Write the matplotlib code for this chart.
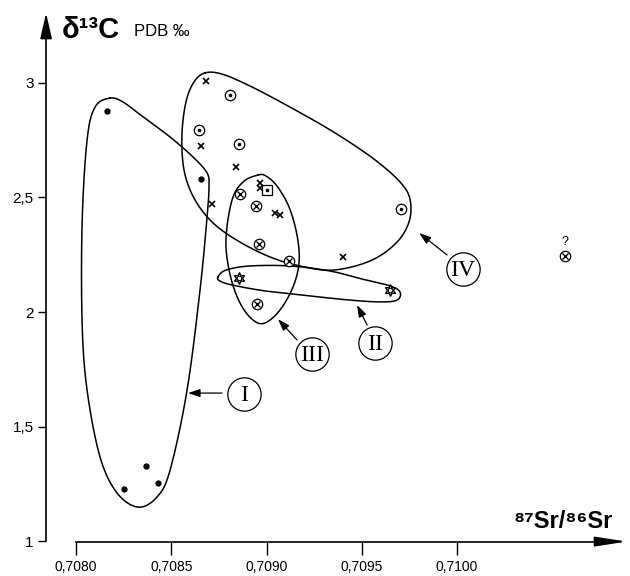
import numpy as np
import matplotlib
matplotlib.use("Agg")
import matplotlib.pyplot as plt

plt.rcParams['font.family'] = ['Liberation Sans', 'DejaVu Sans']

# ---------------- data ----------------
# Field I: filled dots
grp1_x = [0.708163, 0.708656, 0.708367, 0.708252, 0.708430]
grp1_y = [2.878, 2.581, 1.328, 1.227, 1.253]
# Field IV: dotted circles
grp4_x = [0.708808, 0.708646, 0.708856, 0.709706]
grp4_y = [2.948, 2.795, 2.734, 2.450]
# crosses
cross_x = [0.708682, 0.708656, 0.708840, 0.708714, 0.708966, 0.708966, 0.709045, 0.709071, 0.709402]
cross_y = [3.009, 2.725, 2.633, 2.472, 2.563, 2.541, 2.432, 2.424, 2.240]
# dotted square
sq_x = [0.709003]
sq_y = [2.533]
# Field III: circled crosses
grp3_x = [0.708861, 0.708945, 0.708961, 0.709118, 0.708950, 0.710567]
grp3_y = [2.515, 2.463, 2.297, 2.223, 2.035, 2.245]
# Field II: hexagram symbols
grp2_x = [0.708856, 0.709648]
grp2_y = [2.148, 2.096]

# field outlines (data units)
env1_x = [0.708178, 0.708100, 0.708058, 0.708032, 0.708032, 0.708058, 0.708126, 0.708215,
          0.708326, 0.708425, 0.708494, 0.708583, 0.708651, 0.708688, 0.708698, 0.708688,
          0.708614, 0.708494, 0.708352, 0.708247]
env1_y = [2.934, 2.895, 2.751, 2.389, 1.952, 1.659, 1.367, 1.210,
          1.148, 1.192, 1.310, 1.659, 2.096, 2.415, 2.546, 2.607,
          2.677, 2.764, 2.852, 2.917]
env4_x = [0.708677, 0.708619, 0.708577, 0.708556, 0.708567, 0.708619, 0.708714, 0.708851,
          0.709019, 0.709176, 0.709349, 0.709544, 0.709680, 0.709748, 0.709754, 0.709706,
          0.709570, 0.709360, 0.709123, 0.708913, 0.708766]
env4_y = [3.044, 3.004, 2.917, 2.773, 2.620, 2.498, 2.393, 2.310,
          2.240, 2.201, 2.183, 2.223, 2.301, 2.393, 2.489, 2.563,
          2.664, 2.782, 2.895, 2.987, 3.039]
env3_x = [0.708955, 0.708877, 0.708819, 0.708787, 0.708809, 0.708861, 0.708929, 0.708992,
          0.709071, 0.709139, 0.709171, 0.709160, 0.709118, 0.709055, 0.708997]
env3_y = [2.598, 2.568, 2.489, 2.314, 2.162, 2.039, 1.965, 1.952,
          2.009, 2.109, 2.218, 2.336, 2.459, 2.550, 2.594]
env2_x = [0.708745, 0.708787, 0.708913, 0.709123, 0.709333, 0.709501, 0.709648, 0.709701,
          0.709685, 0.709596, 0.709438, 0.709229, 0.708992, 0.708819, 0.708756]
env2_y = [2.153, 2.183, 2.201, 2.201, 2.179, 2.144, 2.114, 2.087,
          2.052, 2.044, 2.052, 2.070, 2.092, 2.118, 2.135]

# field labels: text, label centre, arrow tail, arrow tip
field_names = ['I', 'III', 'II', 'IV']
label_x = [0.708882, 0.709239, 0.709570, 0.710031]
label_y = [1.642, 1.817, 1.865, 2.188]
tail_x = [0.708766, 0.709160, 0.709528, 0.709948]
tail_y = [1.646, 1.878, 1.943, 2.249]
tip_x = [0.708588, 0.709060, 0.709475, 0.709801]
tip_y = [1.646, 1.969, 2.031, 2.345]

xticks = [0.7080, 0.7085, 0.7090, 0.7095, 0.7100]
xticklabels = ['0,7080', '0,7085', '0,7090', '0,7095', '0,7100']
yticks = [1, 1.5, 2, 2.5, 3]
yticklabels = ['1', '1,5', '2', '2,5', '3']


def closed_spline(xs, ys, n=24):
    P = np.column_stack([xs, ys]).astype(float)
    N = len(P)
    t = np.linspace(0, 1, n, endpoint=False)[:, None]
    segs = []
    for i in range(N):
        p0, p1, p2, p3 = P[i - 1], P[i], P[(i + 1) % N], P[(i + 2) % N]
        seg = 0.5 * (2 * p1 + (-p0 + p2) * t + (2 * p0 - 5 * p1 + 4 * p2 - p3) * t ** 2
                     + (-p0 + 3 * p1 - 3 * p2 + p3) * t ** 3)
        segs.append(seg)
    out = np.vstack(segs + [segs[0][:1]])
    return out[:, 0], out[:, 1]


fig = plt.figure(figsize=(6.3, 5.76), dpi=100)
ax = fig.add_axes([0, 0, 1, 1])
ax.set_xlim(0.707601, 0.710908)
ax.set_ylim(0.8472, 3.3624)
ax.patch.set_visible(False)

x_yaxis = 0.707843
y_top_line = 3.25
y_top_tip = 3.305
x_end_line = 0.710800
x_end_tip = 0.710890

ax.spines['top'].set_visible(False)
ax.spines['right'].set_visible(False)
ax.spines['left'].set_position(('data', x_yaxis))
ax.spines['left'].set_bounds(1.0, y_top_line)
ax.spines['bottom'].set_position(('data', 0.9975))
ax.spines['bottom'].set_bounds(0.7080, x_end_line)
for s in ('left', 'bottom'):
    ax.spines[s].set_linewidth(1.2)

ax.set_xticks(xticks)
ax.set_xticklabels(xticklabels)
ax.set_yticks(yticks)
ax.set_yticklabels(yticklabels)
ax.tick_params(axis='x', direction='out', length=9, width=1.0, labelsize=10, pad=4)
ax.tick_params(axis='y', direction='out', length=6, width=1.0, labelsize=11, pad=3)

# axis arrowheads
ax.annotate('', xy=(x_yaxis, y_top_tip), xytext=(x_yaxis, y_top_line - 0.01),
            arrowprops=dict(arrowstyle='-|>,head_length=1.3,head_width=0.3', color='k',
                            lw=1.2, mutation_scale=12, shrinkA=0, shrinkB=0))
ax.annotate('', xy=(x_end_tip, 0.9975), xytext=(x_end_line - 0.00001, 0.9975),
            arrowprops=dict(arrowstyle='-|>,head_length=1.6,head_width=0.25', color='k',
                            lw=1.2, mutation_scale=12, shrinkA=0, shrinkB=0))

# outlines
for ex, ey in [(env1_x, env1_y), (env4_x, env4_y), (env3_x, env3_y), (env2_x, env2_y)]:
    sx, sy = closed_spline(ex, ey)
    ax.plot(sx, sy, color='k', lw=1.1, solid_joinstyle='round')

# markers
ax.plot(grp1_x, grp1_y, 'o', color='k', ms=3.5, ls='none')
ax.plot(grp4_x, grp4_y, 'o', mfc='white', mec='k', mew=0.9, ms=7.5, ls='none')
ax.plot(grp4_x, grp4_y, 'o', color='k', ms=1.6, ls='none')
ax.plot(cross_x, cross_y, 'x', color='k', mew=1.2, ms=4.5, ls='none')
ax.plot(sq_x, sq_y, 's', mfc='white', mec='k', mew=0.9, ms=7.5, ls='none')
ax.plot(sq_x, sq_y, 'o', color='k', ms=1.6, ls='none')
ax.plot(grp3_x, grp3_y, 'o', mfc='white', mec='k', mew=0.9, ms=7.5, ls='none')
ax.plot(grp3_x, grp3_y, 'x', color='k', mew=1.0, ms=4.2, ls='none')
ax.plot(grp2_x, grp2_y, marker=(6, 1, 0), mfc='white', mec='k', mew=1.0, ms=8.5, ls='none')
ax.plot(grp2_x, grp2_y, 'o', mfc='white', mec='k', mew=0.8, ms=3.2, ls='none')

# question mark above the isolated sample
ax.text(grp3_x[-1], grp3_y[-1] + 0.06, '?', ha='center', va='center', fontsize=9)

# field labels
for name, lx, ly, tx, ty, px, py in zip(field_names, label_x, label_y, tail_x, tail_y, tip_x, tip_y):
    ax.plot([lx], [ly], 'o', mfc='white', mec='k', mew=0.9, ms=24, ls='none')
    ax.text(lx, ly - 0.005, name, ha='center', va='center', fontsize=17,
            family=['Liberation Serif', 'DejaVu Serif'])
    ax.annotate('', xy=(px, py), xytext=(tx, ty),
                arrowprops=dict(arrowstyle='-|>,head_length=0.9,head_width=0.3', color='k',
                                lw=0.9, mutation_scale=8, shrinkA=0, shrinkB=0))

# axis titles
fig.text(62 / 630, 1 - 30 / 576, 'δ¹³C', fontsize=21, fontweight='bold', ha='left', va='center')
fig.text(134 / 630, 1 - 32 / 576, 'PDB ‰', fontsize=12, ha='left', va='center')
fig.text(613 / 630, 1 - 522 / 576, '⁸⁷Sr/⁸⁶Sr', fontsize=17, fontweight='bold',
         ha='right', va='center')

fig.savefig('out.png', dpi=100)
